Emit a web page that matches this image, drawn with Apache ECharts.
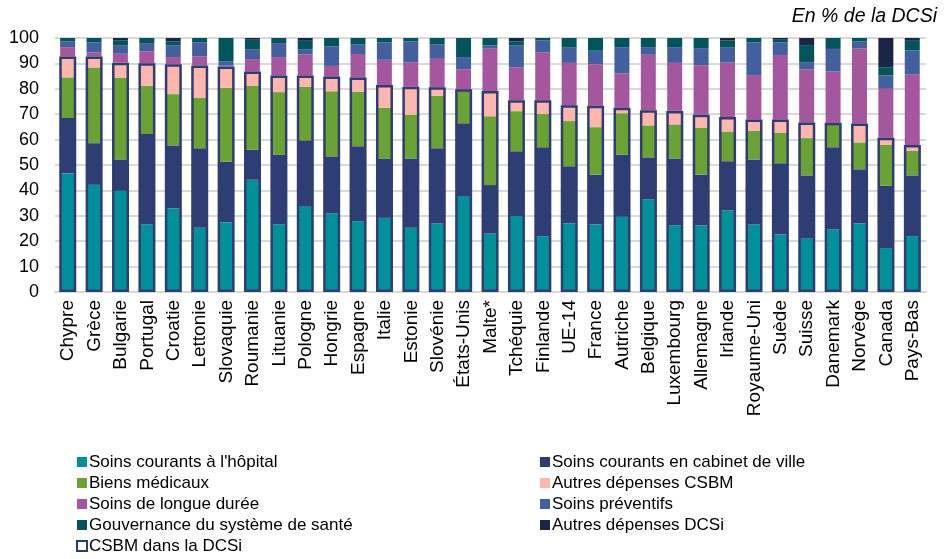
<!DOCTYPE html>
<html><head><meta charset="utf-8">
<script src="https://cdn.jsdelivr.net/npm/echarts@6/dist/echarts.min.js"></script>
<style>html,body{margin:0;padding:0;background:#fff}#c{width:946px;height:559px}</style>
</head><body><div id="c"></div>
<script>
const countries = ["Chypre","Grèce","Bulgarie","Portugal","Croatie","Lettonie","Slovaquie","Roumanie","Lituanie","Pologne","Hongrie","Espagne","Italie","Estonie","Slovénie","États-Unis","Malte*","Tchéquie","Finlande","UE-14","France","Autriche","Belgique","Luxembourg","Allemagne","Irlande","Royaume-Uni","Suède","Suisse","Danemark","Norvège","Canada","Pays-Bas"];
const hopital   = [46.7,42.2,39.8,26.6,32.9,25.3,27.5,44.2,26.6,33.6,31.0,27.9,29.2,25.3,27.0,37.8,23.0,29.9,22.0,27.0,26.6,29.6,36.5,26.3,26.2,32.1,26.6,22.6,21.0,24.6,27.0,17.3,22.0];
const cabinet   = [21.8,16.4,12.4,35.6,24.8,31.3,23.8,11.8,27.5,26.1,22.4,29.5,23.2,27.3,29.6,28.6,19.1,25.5,35.0,22.5,19.6,24.5,16.5,26.3,20.0,19.4,25.6,28.1,24.9,32.4,21.3,24.6,23.9];
const biens     = [16.0,29.8,32.2,19.0,20.2,19.9,29.1,25.1,24.6,21.0,25.6,21.4,20.1,17.2,20.6,13.4,27.1,15.8,13.1,17.8,18.7,16.3,12.6,13.4,18.4,11.7,11.2,11.9,14.7,9.3,10.6,16.0,9.8];
const autresCSBM= [8.2,4.3,5.9,8.9,11.8,12.7,8.4,5.7,6.5,4.5,5.8,5.6,9.0,11.0,3.4,0.0,9.9,4.3,5.4,6.2,8.4,2.1,6.0,5.3,5.2,5.7,4.5,5.3,6.1,0.3,7.4,2.8,2.2];
const longue    = [3.7,1.6,3.5,4.6,2.8,3.5,0.3,4.9,7.3,8.3,4.2,9.3,9.9,9.5,11.2,7.9,16.7,13.0,18.9,16.7,16.3,13.6,21.8,18.9,19.5,21.4,17.5,25.4,21.0,20.2,29.5,19.3,27.8];
const preventifs= [2.3,4.0,3.2,3.3,4.5,5.6,1.6,3.9,5.5,2.1,7.7,3.7,6.9,8.4,5.6,4.8,1.3,8.5,4.7,6.0,5.4,10.3,3.0,6.2,6.5,5.9,12.9,5.0,2.6,8.9,2.9,5.3,9.4];
const gouvernance=[1.3,1.7,2.1,2.0,1.7,1.7,9.3,3.7,2.0,3.3,3.3,2.6,1.7,1.3,2.6,7.5,2.9,1.7,0.9,3.8,5.0,3.6,3.6,3.6,4.2,2.9,1.7,1.0,6.9,4.6,1.3,3.2,3.8];
const autresDCSi= [0,0,0.9,0,1.3,0,0,0.7,0,1.1,0,0,0,0,0,0,0,1.3,0,0,0,0,0,0,0,0.9,0,0.7,2.8,0,0,11.5,1.1];
const yTicks = [0,10,20,30,40,50,60,70,80,90,100];

const csbm = countries.map((_,i)=> +(hopital[i]+cabinet[i]+biens[i]+autresCSBM[i]).toFixed(1));

const names = ["Soins courants à l'hôpital","Soins courants en cabinet de ville","Biens médicaux","Autres dépenses CSBM","Soins de longue durée","Soins préventifs","Gouvernance du système de santé","Autres dépenses DCSi"];
const colors = ["#00909A","#2E3D73","#6AA333","#FFB6AC","#A5579E","#445F9E","#00545A","#1C2546"];
const datas = [hopital,cabinet,biens,autresCSBM,longue,preventifs,gouvernance,autresDCSi];

const series = names.map((n,i)=>({
  name:n, type:'bar', stack:'tot', data:datas[i], barWidth:15,
  itemStyle:{color:colors[i]}, emphasis:{disabled:true}
}));
series.push({
  name:'CSBM dans la DCSi', type:'bar', data:csbm, barWidth:17, barGap:'-106%', z:5,
  itemStyle:{color:'rgba(0,0,0,0)', borderColor:'#2E3D73', borderWidth:2.5}
});

const chart = echarts.init(document.getElementById('c'));
const font = 'Liberation Sans, Arial, sans-serif';
const legText = {fontSize:17, lineHeight:18, color:'#000', fontFamily:font, padding:[0,0,0,-3]};
chart.setOption({
  animation:false,
  textStyle:{fontFamily:font},
  title:{text:'En % de la DCSi', right:4, top:2, textStyle:{fontStyle:'italic', fontWeight:'normal', fontSize:19.5, color:'#000', fontFamily:font}},
  grid:{left:55, right:20, top:38, height:254},
  legend:[
    {left:71, top:448, height:120, orient:'vertical', itemWidth:10, itemHeight:10, itemGap:3,
     icon:'rect', textStyle:legText,
     data:[names[0],names[2],names[4],names[6],{name:'CSBM dans la DCSi', icon:'rect', itemStyle:{color:'#fff', borderColor:'#2E3D73', borderWidth:2}}]},
    {left:535, top:448, height:120, orient:'vertical', itemWidth:10, itemHeight:10, itemGap:3,
     icon:'rect', textStyle:legText,
     data:[names[1],names[3],names[5],names[7]]}
  ],
  xAxis:{type:'category', data:countries,
    axisLine:{lineStyle:{color:'#D9D9D9', width:2}}, axisTick:{show:false},
    axisLabel:{rotate:90, interval:0, fontSize:19, color:'#000', fontFamily:font, margin:8}},
  yAxis:{type:'value', min:0, max:100, interval:10,
    axisLabel:{fontSize:18, color:'#000', fontFamily:font, margin:16},
    splitLine:{lineStyle:{color:'#D9D9D9', width:2}}, axisLine:{show:false}, axisTick:{show:false}},
  series:series
});
</script></body></html>
